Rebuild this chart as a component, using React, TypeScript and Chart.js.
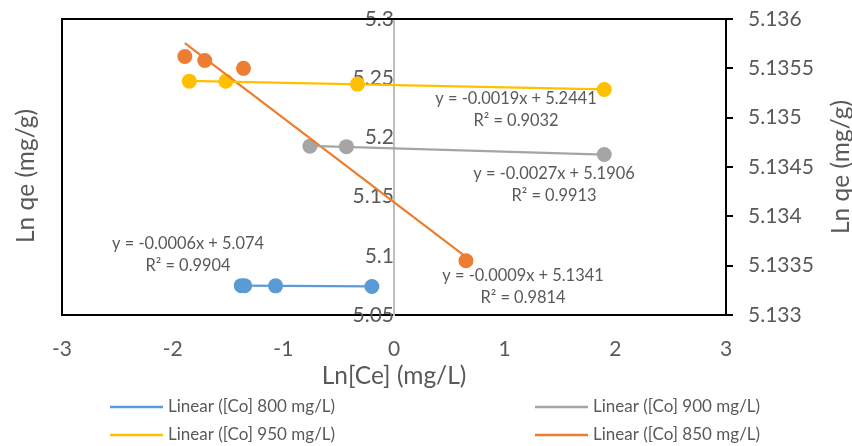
import React, { useEffect, useRef } from "react";
import { Chart, registerables } from "chart.js";

Chart.register(...registerables);

// ---- data ----
const seriesNames = ["[Co] 800 mg/L", "[Co] 900 mg/L", "[Co] 950 mg/L", "[Co] 850 mg/L"];
const seriesColors = ["#5B9BD5", "#A5A5A5", "#FFC000", "#ED7D31"];
const seriesAxis = ["y", "y", "y", "y2"];

const x800 = [-1.38, -1.35, -1.07, -0.2];
const y800 = [5.0748, 5.0748, 5.0746, 5.0741];

const x900 = [-0.76, -0.43, 1.9];
const y900 = [5.1926, 5.1922, 5.1855];

const x950 = [-1.85, -1.52, -0.33, 1.9];
const y950 = [5.2475, 5.2474, 5.245, 5.2405];

const x850 = [-1.89, -1.71, -1.36, 0.65];
const y850 = [5.13562, 5.13558, 5.1355, 5.13355];

const seriesX = [x800, x900, x950, x850];
const seriesY = [y800, y900, y950, y850];

const equationLabels = [
  "y = -0.0006x + 5.074",
  "y = -0.0027x + 5.1906",
  "y = -0.0019x + 5.2441",
  "y = -0.0009x + 5.1341",
];
const r2Labels = ["R² = 0.9904", "R² = 0.9913", "R² = 0.9032", "R² = 0.9814"];

const xTitle = "Ln[Ce] (mg/L)";
const yTitle = "Ln qe (mg/g)";

// ---- helpers ----
function linearFit(xs: number[], ys: number[]) {
  const n = xs.length;
  const mx = xs.reduce((a, b) => a + b, 0) / n;
  const my = ys.reduce((a, b) => a + b, 0) / n;
  let sxy = 0;
  let sxx = 0;
  for (let i = 0; i < n; i++) {
    sxy += (xs[i] - mx) * (ys[i] - my);
    sxx += (xs[i] - mx) * (xs[i] - mx);
  }
  const m = sxy / sxx;
  return { m, b: my - m * mx };
}

const fmt = (v: number | string) => String(Number(Number(v).toFixed(4)));

const TEXT = "#595959";
const FONT = "Lato, 'Open Sans', sans-serif";

// label anchor positions (pixel centres)
const labelPos = [
  { x: 188, y: 244 },
  { x: 554, y: 174 },
  { x: 516, y: 99 },
  { x: 523, y: 276 },
];

const legendItems = [
  { s: 0, lx: 110, ty: 407 },
  { s: 1, lx: 535, ty: 407 },
  { s: 2, lx: 110, ty: 435 },
  { s: 3, lx: 535, ty: 435 },
];

const overlay = {
  id: "overlay",
  afterDraw(chart: any) {
    const { ctx, chartArea } = chart;
    ctx.save();
    // top & left frame
    ctx.strokeStyle = "#000";
    ctx.lineWidth = 2;
    ctx.beginPath();
    ctx.moveTo(chartArea.left, chartArea.bottom);
    ctx.lineTo(chartArea.left, chartArea.top);
    ctx.lineTo(chartArea.right, chartArea.top);
    ctx.stroke();

    ctx.fillStyle = TEXT;
    ctx.textAlign = "center";
    ctx.textBaseline = "middle";

    // equations
    ctx.font = `16.4px ${FONT}`;
    for (let i = 0; i < 4; i++) {
      const p = labelPos[i];
      ctx.fillText(equationLabels[i], p.x, p.y);
      ctx.fillText(r2Labels[i], p.x, p.y + 22);
    }

    // axis titles
    ctx.font = `24.5px ${FONT}`;
    ctx.fillText(xTitle, (chartArea.left + chartArea.right) / 2, 376);
    ctx.save();
    ctx.translate(26, 176);
    ctx.rotate(-Math.PI / 2);
    ctx.fillText(yTitle, 0, 0);
    ctx.restore();
    ctx.save();
    ctx.translate(841, 167);
    ctx.rotate(-Math.PI / 2);
    ctx.fillText(yTitle, 0, 0);
    ctx.restore();

    // legend
    ctx.font = `17px ${FONT}`;
    ctx.textAlign = "left";
    for (const it of legendItems) {
      ctx.strokeStyle = seriesColors[it.s];
      ctx.lineWidth = 2.5;
      ctx.beginPath();
      ctx.moveTo(it.lx, it.ty);
      ctx.lineTo(it.lx + 53, it.ty);
      ctx.stroke();
      ctx.fillStyle = TEXT;
      ctx.fillText(`Linear (${seriesNames[it.s]})`, it.lx + 58, it.ty);
    }
    ctx.restore();
  },
};

const noVertPadding = (s: any) => {
  s.paddingTop = 0;
  s.paddingBottom = 0;
};

export default function App() {
  const ref = useRef<HTMLCanvasElement | null>(null);

  useEffect(() => {
    if (!ref.current) return;
    const datasets: any[] = [];
    // trendlines first so they draw on top
    for (let i = 0; i < 4; i++) {
      const xs = seriesX[i];
      const { m, b } = linearFit(xs, seriesY[i]);
      const x0 = Math.min(...xs);
      const x1 = Math.max(...xs);
      datasets.push({
        label: `Linear (${seriesNames[i]})`,
        data: [
          { x: x0, y: m * x0 + b },
          { x: x1, y: m * x1 + b },
        ],
        showLine: true,
        borderColor: seriesColors[i],
        borderWidth: 2.25,
        pointRadius: 0,
        yAxisID: seriesAxis[i],
      });
    }
    for (let i = 0; i < 4; i++) {
      datasets.push({
        label: seriesNames[i],
        data: seriesX[i].map((x, k) => ({ x, y: seriesY[i][k] })),
        showLine: false,
        backgroundColor: seriesColors[i],
        borderColor: seriesColors[i],
        borderWidth: 0,
        pointRadius: 7.5,
        yAxisID: seriesAxis[i],
      });
    }

    const chart = new Chart(ref.current, {
      type: "scatter",
      data: { datasets },
      options: {
        animation: false,
        responsive: false,
        layout: { padding: { left: 62, top: 19, right: 0, bottom: 0 } },
        plugins: { legend: { display: false }, tooltip: { enabled: false } },
        scales: {
          x: {
            type: "linear",
            position: "bottom",
            min: -3,
            max: 3,
            ticks: { stepSize: 1, color: TEXT, font: { family: FONT, size: 21 }, padding: 22, callback: (v: any) => fmt(v) },
            grid: { display: true, drawOnChartArea: false, drawTicks: false },
            border: { display: true, color: "#000", width: 2 },
            afterFit: (s: any) => {
              s.height = 131;
            },
          },
          y: {
            type: "linear",
            position: { x: 0 } as any,
            min: 5.05,
            max: 5.3,
            z: 1,
            ticks: { stepSize: 0.05, color: TEXT, font: { family: FONT, size: 21 }, padding: 24, callback: (v: any) => fmt(v) },
            grid: { display: true, drawOnChartArea: false, drawTicks: false },
            border: { display: true, color: "#BFBFBF", width: 2 },
            afterFit: noVertPadding,
          },
          y2: {
            type: "linear",
            position: "right",
            min: 5.133,
            max: 5.136,
            ticks: { stepSize: 0.0005, color: TEXT, font: { family: FONT, size: 21 }, padding: 15, callback: (v: any) => fmt(v) },
            grid: { display: true, drawOnChartArea: false, drawTicks: true, tickLength: 7, color: "#000", lineWidth: 2 },
            border: { display: true, color: "#000", width: 2 },
            afterFit: (s: any) => {
              s.width = 126;
              noVertPadding(s);
            },
          },
        },
      },
      plugins: [overlay],
    });
    return () => chart.destroy();
  }, []);

  return (
    <div style={{ position: "fixed", left: 0, top: 0, width: 852, height: 446, background: "#fff" }}>
      <canvas ref={ref} width={852} height={446} style={{ display: "block" }} />
    </div>
  );
}
